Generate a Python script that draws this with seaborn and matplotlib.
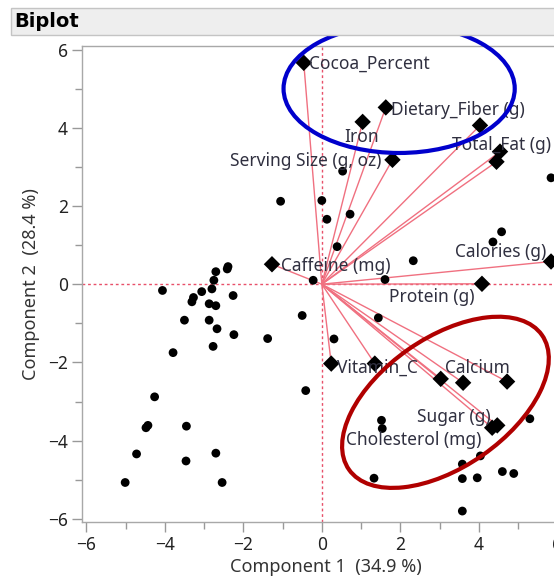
import matplotlib
matplotlib.use("Agg")
import matplotlib.pyplot as plt
from matplotlib.patches import Ellipse, Rectangle
from matplotlib.ticker import MultipleLocator
import seaborn as sns
import pandas as pd

# ---------------- data ----------------
title = "Biplot"
x_label = "Component 1  (34.9 %)"
y_label = "Component 2  (28.4 %)"
x_ticks = [-6, -4, -2, 0, 2, 4, 6]
y_ticks = [-6, -4, -2, 0, 2, 4, 6]

score_x = [-2.39, -2.41, -2.70, -2.75, -4.06, -3.06, -2.80, -3.27, -3.31, -2.26,
           -2.87, -2.70, -3.50, -2.87, -2.67, -2.24, -1.38, -2.77, -3.79, -0.50,
           -0.41, -4.26, -4.43, -4.48, -3.45, -4.72, -3.46, -2.70, -5.01, -2.54,
           -0.22, -1.05, 0.00, 0.13, 0.72, 0.39, 0.53, 4.58, 4.36, 2.33,
           1.61, 5.84, 1.44, 0.31, 5.30, 1.52, 1.54, 1.33, 3.58, 4.04,
           3.58, 3.96, 4.60, 4.89, 3.58]
score_y = [0.45, 0.39, 0.32, 0.10, -0.16, -0.19, -0.12, -0.34, -0.45, -0.29,
           -0.50, -0.55, -0.92, -0.92, -1.14, -1.29, -1.39, -1.59, -1.75, -0.80,
           -2.72, -2.88, -3.61, -3.67, -3.63, -4.34, -4.52, -4.32, -5.07, -5.07,
           0.10, 2.12, 2.14, 1.66, 1.79, 0.96, 2.89, 1.34, 1.08, 0.60,
           0.12, 2.72, -0.86, -1.40, -3.44, -3.48, -3.69, -4.96, -4.60, -4.39,
           -4.97, -4.95, -4.79, -4.84, -5.80]

loading_names = ["Cocoa_Percent", "Dietary_Fiber (g)", "Iron", "Serving Size (g, oz)",
                 "Total_Fat (g)", "", "", "Calories (g)", "Protein (g)", "Caffeine (mg)",
                 "Vitamin_C", "", "Calcium", "", "", "Sugar (g)", "Cholesterol (mg)"]
loading_x = [-0.46, 1.63, 1.04, 1.80, 4.03, 4.54, 4.45, 5.84, 4.08, -1.27,
             0.24, 1.35, 3.03, 3.60, 4.72, 4.34, 4.47]
loading_y = [5.66, 4.52, 4.15, 3.18, 4.06, 3.39, 3.13, 0.58, 0.01, 0.51,
             -2.03, -2.03, -2.42, -2.52, -2.49, -3.67, -3.61]

# label placement (pixel offsets from each diamond, alignment)
label_offsets = [(5, -1), (5, -3), (-1, -15), (-11, -1), (-28, -20), None, None,
                 (-5, 10), (-7, -13), (9, -2), (6, -4), None, (4, 11), None, None,
                 (-2, 11), (-16, -15)]
label_ha = ["left", "left", "center", "right", "left", None, None, "right", "right",
            "left", "left", None, "left", None, None, "right", "right"]

# ---------------- style ----------------
sns.set_theme(style="white")
plt.rcParams['font.family'] = ['Noto Sans', 'DejaVu Sans']

W, H = 554, 584
fig = plt.figure(figsize=(W / 100, H / 100), dpi=100)
fig.patch.set_facecolor("white")

xlim = (-6.11, 6.3)
ylim = (-6.08, 6.09)
px_per_unit = 39.25
ax_left, ax_bottom = 82, 62
ax_w = (xlim[1] - xlim[0]) * px_per_unit
ax_h = 476
ax = fig.add_axes([ax_left / W, ax_bottom / H, ax_w / W, ax_h / H])

# header bar
fig.patches.append(Rectangle((11 / W, 1 - 35 / H), 1.0, 27 / H, transform=fig.transFigure,
                             facecolor="#eeeeee", edgecolor="#c4c4c4", lw=1, zorder=0))
fig.text(14 / W, 1 - 21.5 / H, title, fontsize=14, fontweight="bold", color="black",
         va="center", ha="left", family=["DejaVu Sans"])

# reference lines
ref_color = "#e8506a"
ax.axhline(0, color=ref_color, lw=1, ls=(0, (2, 2)), zorder=1)
ax.axvline(0, color=ref_color, lw=1, ls=(0, (2, 2)), zorder=1)

# rays
for lx, ly in zip(loading_x, loading_y):
    ax.plot([0, lx], [0, ly], color="#f07080", lw=1, zorder=2, solid_capstyle="butt")

scores = pd.DataFrame({"x": score_x, "y": score_y})
loads = pd.DataFrame({"x": loading_x, "y": loading_y, "name": loading_names})

sns.scatterplot(data=scores, x="x", y="y", color="black", s=40, edgecolor="none",
                ax=ax, zorder=3, legend=False)
sns.scatterplot(data=loads, x="x", y="y", color="black", marker="D", s=70,
                edgecolor="none", ax=ax, zorder=4, legend=False)

for name, lx, ly, off, ha in zip(loading_names, loading_x, loading_y, label_offsets, label_ha):
    if not name:
        continue
    ax.annotate(name, (lx, ly), xytext=off, textcoords="offset pixels",
                ha=ha, va="center", fontsize=12.5, color="#303040", zorder=5)

# highlight ellipses
ax.add_patch(Ellipse((1.97, 5.0), width=5.89, height=3.29, angle=0, fill=False,
                     edgecolor="#0000cc", lw=3, clip_on=False, zorder=10))
ax.add_patch(Ellipse((3.15, -3.02), width=6.0, height=3.3, angle=35, fill=False,
                     edgecolor="#b00000", lw=3, clip_on=False, zorder=10))

# axes
ax.set_xlim(*xlim)
ax.set_ylim(*ylim)
ax.set_xticks(x_ticks)
ax.set_yticks(y_ticks)
ax.xaxis.set_minor_locator(MultipleLocator(1))
ax.yaxis.set_minor_locator(MultipleLocator(1))
ax.tick_params(which="both", direction="out", bottom=True, left=True, color="#999999",
               width=1, labelsize=12.5, labelcolor="#222222")
ax.tick_params(which="major", length=7, pad=3)
ax.tick_params(which="minor", length=5)
for t in ax.xaxis.get_major_ticks():
    if abs(t.get_loc()) < 1e-9:
        t.tick1line.set_color(ref_color)
for t in ax.yaxis.get_major_ticks():
    if abs(t.get_loc()) < 1e-9:
        t.tick1line.set_color(ref_color)

for side in ["left", "bottom", "top"]:
    ax.spines[side].set_color("#a8a8a8")
    ax.spines[side].set_linewidth(1)
ax.spines["right"].set_visible(False)

ax.set_xlabel(x_label, fontsize=13, color="#333333", labelpad=3)
ax.set_ylabel(y_label, fontsize=13, color="#333333", labelpad=6)

fig.savefig("out.png", dpi=100)
